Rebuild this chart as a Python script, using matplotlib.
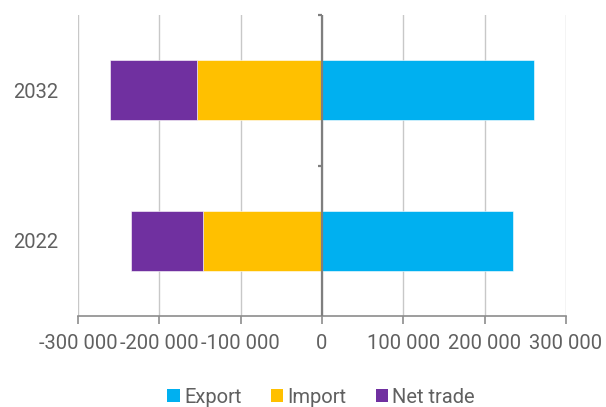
import numpy as np
import matplotlib
matplotlib.use('Agg')
import matplotlib.pyplot as plt
from matplotlib.patches import Patch

plt.rcParams['font.family'] = ['Roboto', 'DejaVu Sans']

# data
years = ['2022', '2032']
export = [235000, 261000]
imports = [-146500, -154000]
net_trade = [-88500, -107000]
xticks = [-300000, -200000, -100000, 0, 100000, 200000, 300000]
series_names = ['Export', 'Import', 'Net trade']
colors = ['#00B0F0', '#FFC000', '#7030A0']

TXT = '#606060'
FS = 14.5

fig = plt.figure(figsize=(6.06, 4.07), dpi=100)
ax = fig.add_axes([0.1287, 0.2236, 0.934 - 0.1287, 0.963 - 0.2236])

y = np.arange(len(years))
h = 0.4
ax.barh(y, export, height=h, color=colors[0], edgecolor='white', linewidth=0.4, zorder=3)
ax.barh(y, imports, height=h, color=colors[1], edgecolor='white', linewidth=0.4, zorder=3)
ax.barh(y, net_trade, left=imports, height=h, color=colors[2], edgecolor='white',
        linewidth=0.4, zorder=3)

ax.set_xlim(xticks[0], xticks[-1])
ax.set_ylim(-0.5, len(years) - 0.5)
ax.set_xticks(xticks)
ax.set_xticklabels([f'{v:,}'.replace(',', ' ') for v in xticks], fontsize=FS, color=TXT)
ax.set_yticks(y)
ax.set_yticklabels(years, fontsize=FS, color=TXT)
ax.tick_params(axis='y', length=0, pad=14)
ax.tick_params(axis='x', length=6, width=1.2, color='#8c8c8c', pad=7)

for s in ['top', 'right', 'left']:
    ax.spines[s].set_visible(False)
ax.spines['bottom'].set_color('#8c8c8c')
ax.spines['bottom'].set_linewidth(1.2)

ax.grid(axis='x', color='#c8c8c8', linewidth=1.0, zorder=0)
ax.set_axisbelow(True)

# vertical category axis at zero with boundary ticks
ax.axvline(0, color='#7f7f7f', linewidth=1.6, zorder=4)
tick_len = 5500
for yb in np.arange(0.5, len(years)):
    ax.plot([-tick_len, 0], [yb, yb], color='#7f7f7f', linewidth=1.6, zorder=4,
            solid_capstyle='butt', clip_on=False)

handles = [Patch(facecolor=c, edgecolor='none', label=n) for c, n in zip(colors, series_names)]
fig.legend(handles=handles, loc='center', bbox_to_anchor=(0.53, 0.024), ncol=3,
           frameon=False, fontsize=FS, labelcolor=TXT, handlelength=0.63,
           handleheight=0.63, handletextpad=0.2, columnspacing=1.45,
           borderpad=0, borderaxespad=0)

fig.savefig('out.png', dpi=100)
